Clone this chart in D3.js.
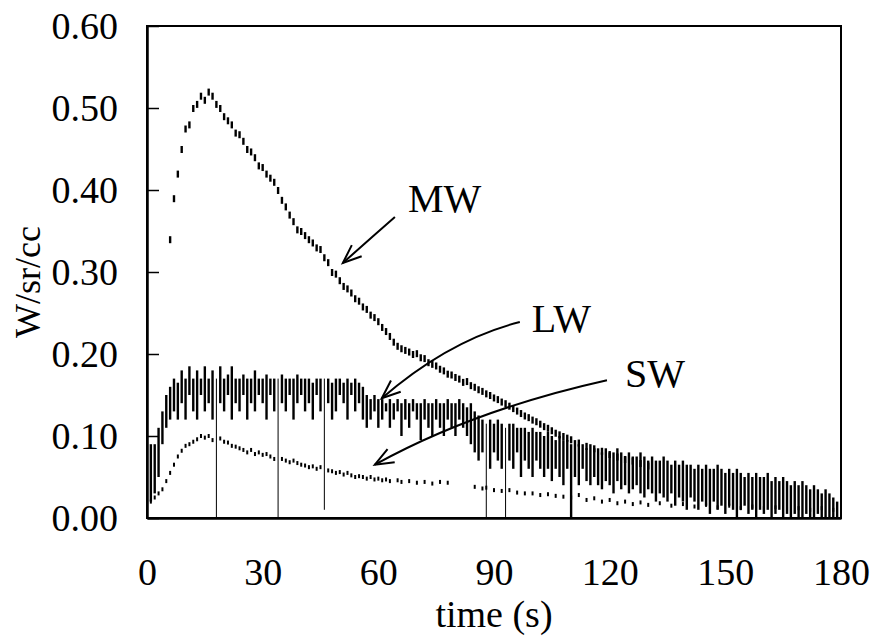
<!DOCTYPE html>
<html>
<head>
<meta charset="utf-8">
<script src="https://cdn.jsdelivr.net/npm/d3@7"></script>
<style>
  body { margin: 0; background: #fff; }
</style>
</head>
<body>
<div id="graphe"></div>
<script>
// graduations
const ticksY = [0, 0.1, 0.2, 0.3, 0.4, 0.5, 0.6];
const ticksX = [0, 30, 60, 90, 120, 150, 180];

// LW : une valeur par seconde (indice = temps), haut et bas de chaque trait
const lwHaut = [
  0.10,0.09,0.09,0.11,0.13,0.15,0.16,0.17,0.165,0.18,
  0.17,0.185,0.17,0.18,0.17,0.185,0.17,0.18,0.17,0.185,
  0.17,0.175,0.185,0.17,0.17,0.175,0.17,0.17,0.18,0.17,
  0.17,0.175,0.17,0.17,0.17,0.175,0.17,0.17,0.17,0.175,
  0.17,0.17,0.17,0.165,0.17,0.17,0.17,0.17,0.165,0.17,
  0.17,0.165,0.17,0.165,0.17,0.165,0.16,0.15,0.145,0.15,
  0.145,0.145,0.14,0.145,0.14,0.145,0.14,0.145,0.14,0.145,
  0.14,0.14,0.145,0.14,0.14,0.145,0.14,0.14,0.145,0.14,
  0.14,0.145,0.14,0.135,0.14,0.13,0.125,0.12,0.115,0.12,
  0.115,0.12,0.115,0.11,0.115,0.115,0.11,0.11,0.11,0.105,
  0.11,0.105,0.105,0.10,0.105,0.10,0.095,0.10,0.095,0.095,
  0.09,0.095,0.09,0.09,0.085,0.09,0.085,0.085,0.08,0.085,
  0.08,0.08,0.085,0.08,0.075,0.08,0.075,0.075,0.08,0.075,
  0.07,0.075,0.07,0.07,0.075,0.07,0.065,0.07,0.065,0.07,
  0.065,0.065,0.06,0.065,0.06,0.065,0.06,0.06,0.065,0.06,
  0.055,0.06,0.055,0.06,0.055,0.05,0.055,0.05,0.055,0.05,
  0.05,0.055,0.045,0.05,0.045,0.05,0.045,0.04,0.045,0.04,
  0.045,0.04,0.035,0.04,0.035,0.03,0.035,0.03,0.025,0.02
];
const lwBas = [
  0.0,0.02,0.03,0.05,0.09,0.11,0.12,0.13,0.12,0.14,
  0.12,0.15,0.13,0.12,0.15,0.13,0.14,0.12,0.0,0.14,
  0.13,0.15,0.12,0.14,0.13,0.15,0.12,0.14,0.13,0.15,
  0.14,0.12,0.15,0.13,0.0,0.14,0.13,0.15,0.12,0.14,
  0.15,0.13,0.14,0.12,0.15,0.13,0.01,0.14,0.12,0.13,
  0.15,0.14,0.12,0.15,0.13,0.14,0.12,0.11,0.12,0.13,
  0.11,0.12,0.13,0.11,0.12,0.13,0.10,0.12,0.11,0.13,
  0.12,0.095,0.12,0.11,0.10,0.12,0.11,0.10,0.12,0.11,
  0.10,0.12,0.11,0.10,0.09,0.08,0.07,0.08,0.0,0.06,
  0.08,0.07,0.06,0.0,0.07,0.06,0.08,0.05,0.07,0.06,
  0.05,0.07,0.06,0.05,0.06,0.045,0.06,0.05,0.04,0.06,
  0.0,0.05,0.04,0.06,0.045,0.04,0.05,0.04,0.035,0.045,
  0.04,0.03,0.045,0.035,0.04,0.03,0.035,0.04,0.03,0.025,
  0.035,0.03,0.02,0.03,0.025,0.02,0.03,0.015,0.025,0.02,
  0.01,0.025,0.02,0.01,0.02,0.015,0.005,0.02,0.01,0.015,
  0.005,0.015,0.01,0.0,0.01,0.015,0.005,0.01,0.0,0.01,
  0.005,0.01,0.0,0.005,0.01,0.0,0.005,0.0,0.005,0.0,
  0.0,0.005,0.0,0.0,0.005,0.0,0.0,0.0,0.0,0.0
];

// MW : points pointilles
const mwTemps = [
  6,7,8,9,10,11,12,13,14,15,16,17,18,19,20,21,22,23,24,25,
  26,27,28,29,30,31,32,33,34,35,36,37,38,39,40,41,42,43,44,45,
  46,47,48,49,50,51,52,53,54,55,56,57,58,59,60,61,62,63,64,65,
  66,67,68,69,70,71,72,73,74,75,76,77,78,79,80,81,82,83,84,85,
  86,87,88,89,90,91,92,93,94,95,96,97,98,99,100,101,102,103,104,105,
  106,107,108,109,110,112,114,116,118,120,122,124,126,128,130
];
const mwValeurs = [
  0.34,0.39,0.42,0.45,0.475,0.48,0.50,0.505,0.515,0.51,0.52,0.515,0.505,0.50,0.49,0.485,0.48,0.47,0.468,0.46,
  0.45,0.447,0.44,0.43,0.428,0.42,0.415,0.41,0.40,0.388,0.38,0.37,0.362,0.352,0.35,0.345,0.34,0.336,0.33,0.328,
  0.318,0.312,0.30,0.298,0.29,0.283,0.28,0.275,0.268,0.265,0.258,0.255,0.248,0.245,0.24,0.233,0.228,0.222,0.215,0.21,
  0.207,0.205,0.203,0.20,0.201,0.196,0.195,0.19,0.188,0.186,0.182,0.18,0.176,0.175,0.172,0.17,0.166,0.167,0.162,0.16,
  0.157,0.155,0.152,0.15,0.147,0.145,0.142,0.14,0.137,0.134,0.131,0.128,0.125,0.123,0.12,0.118,0.115,0.112,0.11,0.107,
  0.104,0.102,0.10,0.098,0.096,0.092,0.088,0.085,0.082,0.078,0.075,0.072,0.07,0.067,0.064
];

// SW : points plus clairsemes
const swTemps = [
  1,2,3,4,5,6,7,8,9,10,11,12,13,14,15,16,17,19,20,21,22,23,24,25,26,27,28,29,30,31,32,33,
  35,36,37,38,39,40,41,42,43,44,45,47,48,49,50,51,52,53,54,55,56,57,58,59,60,61,62,63,
  65,66,68,70,72,74,76,78,85,87,88,90,92,94,96,98,100,102,104,106,108,110,112,114,116,118,
  120,122,124,126,128,130,133,136,139,142,145,148,151,154,157,160,163,166,169,172,175,178
];
const swValeurs = [
  0.02,0.025,0.03,0.035,0.045,0.055,0.065,0.075,0.082,0.088,0.09,0.093,0.096,0.10,0.098,0.10,0.095,0.097,0.093,0.092,0.088,0.087,0.085,0.083,0.08,0.083,0.078,0.08,0.077,0.078,0.075,0.072,
  0.072,0.07,0.068,0.07,0.067,0.065,0.064,0.062,0.063,0.06,0.062,0.058,0.057,0.055,0.056,0.053,0.055,0.052,0.05,0.051,0.05,0.048,0.05,0.047,0.048,0.046,0.047,0.045,
  0.046,0.044,0.045,0.043,0.044,0.042,0.044,0.043,0.038,0.036,0.037,0.034,0.033,0.034,0.031,0.03,0.03,0.028,0.029,0.027,0.026,0.025,0.028,0.022,0.024,0.02,
  0.022,0.018,0.02,0.017,0.019,0.016,0.018,0.015,0.017,0.014,0.016,0.013,0.015,0.012,0.014,0.012,0.013,0.011,0.012,0.01,0.012,0.01
];

// etiquettes et fleches (en unites des donnees)
const etiquettes = [
  { nom: "MW", t: 67.7, v: 0.373 },
  { nom: "LW", t: 99.8, v: 0.227 },
  { nom: "SW", t: 124, v: 0.16 }
];
const fleches = [
  { depart: [64.3, 0.367], ctrl: [57.5, 0.339], pointe: [50.8, 0.311] },
  { depart: [96.7, 0.239], ctrl: [78.3, 0.217], pointe: [60.9, 0.146] },
  { depart: [119.3, 0.168], ctrl: [84.9, 0.132], pointe: [59.1, 0.065] }
];

const police = "'Liberation Serif', 'DejaVu Serif', 'Times New Roman', serif";

const margin = { top: 26, right: 31, bottom: 119, left: 147 },
    width = 872,
    height = 637;

var svg = d3
    .select("#graphe")
    .append("svg")
    .attr("width", width)
    .attr("height", height)
    .style("background", "#fff");

var x = d3.scaleLinear()
    .domain([0, 180])
    .range([margin.left, width - margin.right]);

var y = d3.scaleLinear()
    .domain([0, 0.6])
    .range([height - margin.bottom, margin.top]);

// traits LW
svg.append("g")
    .selectAll("line")
    .data(lwHaut)
    .join("line")
    .attr("x1", (d, i) => x(i))
    .attr("x2", (d, i) => x(i))
    .attr("y1", d => y(d))
    .attr("y2", (d, i) => y(lwBas[i]))
    .attr("stroke", "#000")
    .attr("stroke-width", (d, i) => lwBas[i] < 0.015 && lwHaut[i] > 0.09 ? 1 : 2.4);

// MW
svg.append("g")
    .selectAll("line")
    .data(mwValeurs)
    .join("line")
    .attr("x1", (d, i) => x(mwTemps[i]))
    .attr("x2", (d, i) => x(mwTemps[i]))
    .attr("y1", d => y(d) - 3)
    .attr("y2", d => y(d) + 4)
    .attr("stroke", "#000")
    .attr("stroke-width", 2.4);

// SW
svg.append("g")
    .selectAll("rect")
    .data(swValeurs)
    .join("rect")
    .attr("x", (d, i) => x(swTemps[i]) - 1)
    .attr("y", d => y(d) - 2)
    .attr("width", 2)
    .attr("height", 4)
    .attr("fill", "#000");

// cadre
svg.append("rect")
    .attr("x", x(0))
    .attr("y", y(0.6))
    .attr("width", x(180) - x(0))
    .attr("height", y(0) - y(0.6))
    .attr("fill", "none")
    .attr("stroke", "#000")
    .attr("stroke-width", 2);

// axe y
var axeY = svg.append("g")
    .attr("transform", `translate(${x(0)},0)`)
    .call(d3.axisLeft(y).tickValues(ticksY).tickFormat(d3.format(".2f"))
        .tickSizeInner(-12).tickSizeOuter(0).tickPadding(29));
axeY.attr("font-family", police).attr("font-size", 38);
axeY.select(".domain").attr("stroke-width", 2.5);
axeY.selectAll(".tick line").attr("stroke-width", 1.5);
axeY.selectAll("text").attr("dy", "0.33em");

// axe x
var axeX = svg.append("g")
    .attr("transform", `translate(0,${y(0)})`)
    .call(d3.axisBottom(x).tickValues(ticksX).tickFormat(d3.format("d"))
        .tickSize(0).tickPadding(0));
axeX.attr("font-family", police).attr("font-size", 38);
axeX.select(".domain").attr("stroke-width", 2.5);
axeX.selectAll("text")
    .attr("y", 67)
    .attr("dy", "0");

// titres
svg.append("text")
    .attr("x", (x(0) + x(180)) / 2)
    .attr("y", 627)
    .attr("text-anchor", "middle")
    .attr("font-family", police)
    .attr("font-size", 38)
    .text("time (s)");

svg.append("text")
    .attr("transform", "rotate(-90)")
    .attr("x", -282)
    .attr("y", 40)
    .attr("text-anchor", "middle")
    .attr("font-family", police)
    .attr("font-size", 36)
    .text("W/sr/cc");

// annotations
svg.append("g")
    .selectAll("text")
    .data(etiquettes)
    .join("text")
    .attr("x", d => x(d.t))
    .attr("y", d => y(d.v))
    .attr("font-family", police)
    .attr("font-size", 40)
    .text(d => d.nom);

var g = svg.append("g")
    .attr("fill", "none")
    .attr("stroke", "#000")
    .attr("stroke-width", 2);

fleches.forEach(f => {
    const x0 = x(f.depart[0]), y0 = y(f.depart[1]);
    const cx = x(f.ctrl[0]), cy = y(f.ctrl[1]);
    const x1 = x(f.pointe[0]), y1 = y(f.pointe[1]);
    g.append("path").attr("d", `M${x0},${y0}Q${cx},${cy} ${x1},${y1}`);
    const a = Math.atan2(cy - y1, cx - x1);
    const L = 20;
    g.append("path").attr("d",
        `M${x1 + L * Math.cos(a - 0.38)},${y1 + L * Math.sin(a - 0.38)}L${x1},${y1}L${x1 + L * Math.cos(a + 0.38)},${y1 + L * Math.sin(a + 0.38)}`);
});
</script>
</body>
</html>
